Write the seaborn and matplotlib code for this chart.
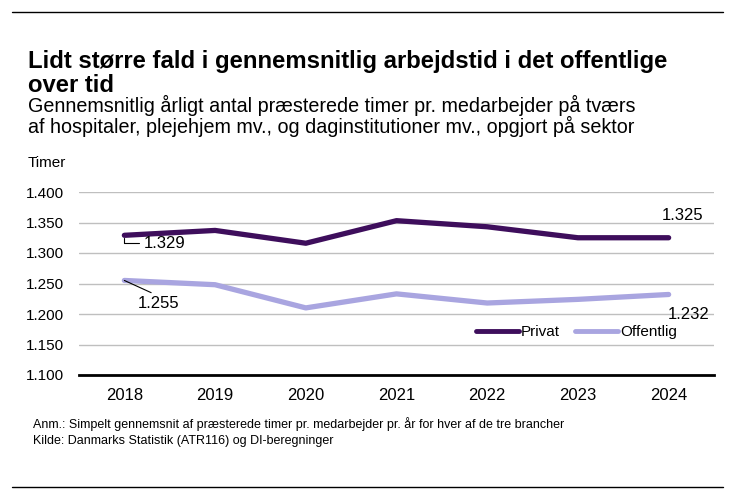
import matplotlib
matplotlib.use("Agg")
import matplotlib.pyplot as plt
import seaborn as sns
import pandas as pd
from matplotlib.lines import Line2D

years = [2018, 2019, 2020, 2021, 2022, 2023, 2024]
privat = [1329, 1337, 1316, 1353, 1343, 1325, 1325]
offentlig = [1255, 1248, 1210, 1233, 1218, 1224, 1232]
series_names = ["Privat", "Offentlig"]
yticks = [1100, 1150, 1200, 1250, 1300, 1350, 1400]
ytick_labels = ["1.100", "1.150", "1.200", "1.250", "1.300", "1.350", "1.400"]

title = "Lidt større fald i gennemsnitlig arbejdstid i det offentlige\nover tid"
subtitle = ("Gennemsnitlig årligt antal præsterede timer pr. medarbejder på tværs\n"
            "af hospitaler, plejehjem mv., og daginstitutioner mv., opgjort på sektor")
unit = "Timer"
note1 = "Anm.: Simpelt gennemsnit af præsterede timer pr. medarbejder pr. år for hver af de tre brancher"
note2 = "Kilde: Danmarks Statistik (ATR116) og DI-beregninger"

df = pd.DataFrame({
    "År": years * 2,
    "Timer": privat + offentlig,
    "Sektor": [series_names[0]] * len(years) + [series_names[1]] * len(years),
})

sns.set_theme(style="white")
plt.rcParams["font.family"] = ["Liberation Sans", "DejaVu Sans"]
plt.rcParams["text.color"] = "black"
plt.rcParams["axes.labelcolor"] = "black"
plt.rcParams["xtick.color"] = "black"
plt.rcParams["ytick.color"] = "black"

colors = {"Privat": "#3E0E5C", "Offentlig": "#A9A5E0"}

fig = plt.figure(figsize=(7.35, 4.96), dpi=100)
ax = fig.add_axes([79 / 735, 1 - 375 / 496, (714 - 79) / 735, (375 - 192) / 496])

sns.lineplot(data=df, x="År", y="Timer", hue="Sektor", palette=colors,
             linewidth=3.8, ax=ax, legend=False, solid_capstyle="round")

ax.set_xlim(years[0] - 0.5, years[-1] + 0.5)
ax.set_ylim(yticks[0], yticks[-1])
ax.set_yticks(yticks)
ax.set_yticklabels(ytick_labels)
ax.set_xticks(years)
ax.set_xticklabels([str(y) for y in years])
ax.set_xlabel("")
ax.set_ylabel("")
ax.grid(axis="y", color="#BFBFBF", linewidth=1.0)
ax.grid(axis="x", visible=False)
for s in ["top", "right", "left"]:
    ax.spines[s].set_visible(False)
ax.spines["bottom"].set_color("black")
ax.spines["bottom"].set_linewidth(2.0)
ax.spines["bottom"].set_zorder(5)
ax.tick_params(axis="both", length=0, colors="black")
ax.tick_params(axis="x", pad=9, labelsize=12)
ax.tick_params(axis="y", pad=11, labelsize=11)
ax.set_facecolor("none")

# data labels
def fmt(v):
    return f"{v/1000:.3f}"

ax.annotate(fmt(privat[0]), xy=(years[0], privat[0]), xytext=(19, -8),
            textcoords="offset pixels", ha="left", va="center", fontsize=12,
            arrowprops=dict(arrowstyle="-", color="black", lw=0.8,
                            connectionstyle="angle,angleA=0,angleB=90,rad=0",
                            shrinkA=1, shrinkB=2, relpos=(0, 0.5)))
ax.annotate(fmt(offentlig[0]), xy=(years[0], offentlig[0]), xytext=(34, -23),
            textcoords="offset pixels", ha="center", va="center", fontsize=12,
            arrowprops=dict(arrowstyle="-", color="black", lw=0.8,
                            shrinkA=0, shrinkB=0, relpos=(0.5, 1.0)))
ax.annotate(fmt(privat[-1]), xy=(years[-1], privat[-1]), xytext=(14, 22),
            textcoords="offset pixels", ha="center", va="center", fontsize=12)
ax.annotate(fmt(offentlig[-1]), xy=(years[-1], offentlig[-1]), xytext=(20, -20),
            textcoords="offset pixels", ha="center", va="center", fontsize=12)

handles = [Line2D([0], [0], color=colors[n], lw=3.5, solid_capstyle="round") for n in series_names]
ax.legend(handles, series_names, loc="center left", bbox_to_anchor=(397 / 635, (375 - 332) / 183),
          ncol=2, frameon=False, fontsize=11, handlelength=2.8, handletextpad=0.15,
          columnspacing=1.0, borderaxespad=0, borderpad=0)

# titles and notes (va='baseline' aligns the last line)
fig.text(28 / 735, 1 - 92 / 496, title, fontsize=17.2, fontweight="bold", ha="left",
         va="baseline", linespacing=1.05)
fig.text(28 / 735, 1 - 133 / 496, subtitle, fontsize=14.2, ha="left", va="baseline",
         linespacing=1.0)
fig.text(28 / 735, 1 - 167 / 496, unit, fontsize=11, ha="left", va="baseline")
fig.text(33 / 735, 1 - 428 / 496, note1, fontsize=9.0, ha="left", va="baseline")
fig.text(33 / 735, 1 - 444 / 496, note2, fontsize=9.0, ha="left", va="baseline")

fig.add_artist(Line2D([12 / 735, 723 / 735], [1 - 12 / 496, 1 - 12 / 496], color="black", lw=1.0))
fig.add_artist(Line2D([12 / 735, 723 / 735], [1 - 487 / 496, 1 - 487 / 496], color="black", lw=1.0))

fig.savefig("out.png", dpi=100)
